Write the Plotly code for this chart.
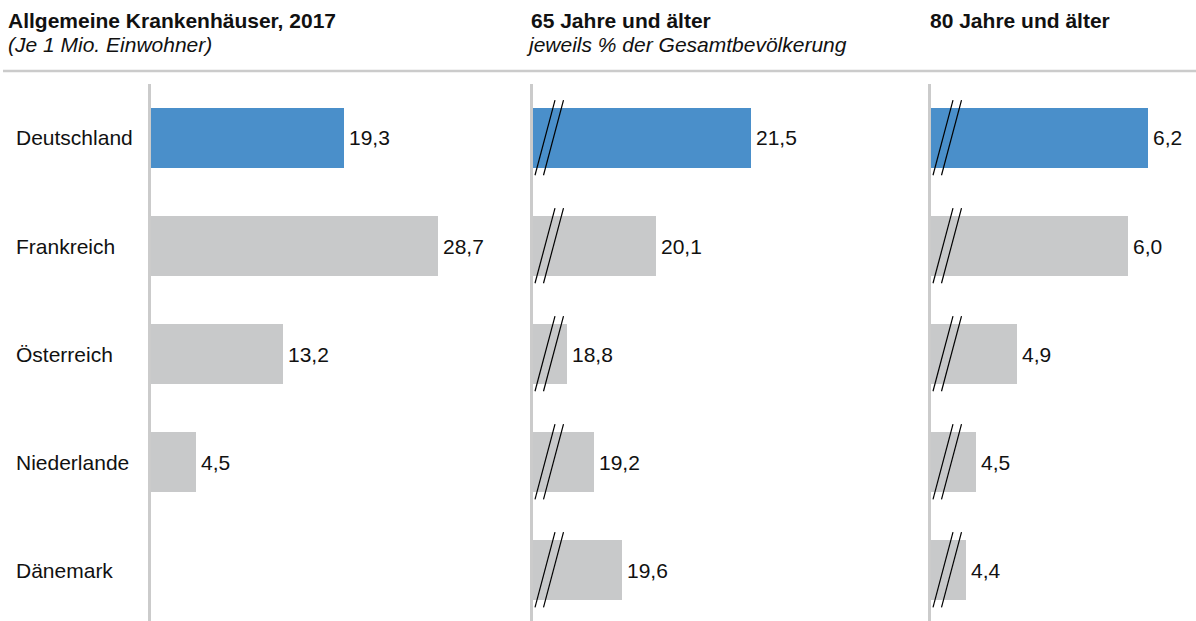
import plotly.graph_objects as go

# Data
countries = ["Deutschland", "Frankreich", "Österreich", "Niederlande", "Dänemark"]
hospitals_per_mio = [19.3, 28.7, 13.2, 4.5, None]
share_65_plus = [21.5, 20.1, 18.8, 19.2, 19.6]
share_80_plus = [6.2, 6.0, 4.9, 4.5, 4.4]

panel_titles = ["Allgemeine Krankenhäuser, 2017", "65 Jahre und älter", "80 Jahre und älter"]
panel_subtitles = ["(Je 1 Mio. Einwohner)", "jeweils % der Gesamtbevölkerung", ""]

W, H = 1196, 621
FONT = "Liberation Sans, Arial, sans-serif"
BLUE = "#4a8fca"
GREY = "#c8c9ca"
AXIS_GREY = "#cbcbcb"
FS = 21

colors = [BLUE] + [GREY] * (len(countries) - 1)

# Panel layout (pixel positions of each bar baseline and value ranges)
panels = [
    dict(values=hospitals_per_mio, left=151, right=520, xrange=[0, 36.9], broken=False),
    dict(values=share_65_plus, left=533, right=920, xrange=[18.30, 23.98], broken=True),
    dict(values=share_80_plus, left=931, right=1196, xrange=[4.054, 6.675], broken=True),
]

TOP = 84  # top of plotting area in px
y_dom_top = 1 - TOP / H
y_range = [4.472, -0.5]
bar_w = 60 / 108

fig = go.Figure()
annotations = []
shapes = []

def fmt(v):
    return f"{v:.1f}".replace(".", ",")

for k, p in enumerate(panels):
    xs = "" if k == 0 else str(k + 1)
    xa, ya = "x" + xs, "y" + xs
    fig.add_trace(go.Bar(
        x=p["values"], y=countries, orientation="h",
        marker=dict(color=colors, line=dict(width=0)),
        width=bar_w, base=0,
        xaxis=xa, yaxis=ya, hoverinfo="skip", showlegend=False,
    ))
    fig.layout["xaxis" + xs] = dict(
        domain=[p["left"] / W, p["right"] / W], range=p["xrange"],
        visible=False, fixedrange=True, anchor=ya,
    )
    fig.layout["yaxis" + xs] = dict(
        domain=[0, y_dom_top], range=y_range, type="category",
        categoryorder="array", categoryarray=countries,
        showticklabels=False, ticks="", showgrid=False, zeroline=False,
        showline=True, linecolor=AXIS_GREY, linewidth=3,
        anchor=xa, fixedrange=True,
    )
    # value labels
    for i, v in enumerate(p["values"]):
        if v is None:
            continue
        annotations.append(dict(
            x=v, y=countries[i], xref=xa, yref=ya, text=fmt(v),
            showarrow=False, xanchor="left", yanchor="middle", xshift=3,
            font=dict(family=FONT, size=FS, color="#111111"),
        ))
    # axis-break marks (double slash) at the bar baseline
    if p["broken"]:
        for i, v in enumerate(p["values"]):
            for off in (2, 10.5):
                shapes.append(dict(
                    type="line", xref="paper", yref=ya,
                    x0=(p["left"] + off) / W, x1=(p["left"] + off + 20) / W,
                    y0=i + 0.345, y1=i - 0.35,
                    line=dict(color="#000000", width=1.2),
                ))

# country labels
for c in countries:
    annotations.append(dict(
        x=16 / W, y=c, xref="paper", yref="y", text=c, showarrow=False,
        xanchor="left", yanchor="middle", xshift=-2,
        font=dict(family=FONT, size=FS, color="#111111"),
    ))

# panel headings
title_x = [8, 531, 930]
sub_shift = [-2, -7, 0]
for tx, t, s, ss in zip(title_x, panel_titles, panel_subtitles, sub_shift):
    annotations.append(dict(
        x=tx / W, y=1 - 20 / H, xref="paper", yref="paper", text=f"<b>{t}</b>",
        showarrow=False, xanchor="left", yanchor="middle", xshift=-2,
        font=dict(family=FONT, size=FS, color="#111111"),
    ))
    if s:
        annotations.append(dict(
            x=tx / W, y=1 - 45 / H, xref="paper", yref="paper", text=f"<i>{s}</i>",
            showarrow=False, xanchor="left", yanchor="middle", xshift=ss,
            font=dict(family=FONT, size=FS, color="#111111"),
        ))

# header rule
shapes.append(dict(
    type="line", xref="paper", yref="paper", x0=3 / W, x1=1,
    y0=1 - 71 / H, y1=1 - 71 / H, line=dict(color=AXIS_GREY, width=2.5),
))

fig.update_layout(
    width=W, height=H, margin=dict(l=0, r=0, t=0, b=0),
    paper_bgcolor="white", plot_bgcolor="white",
    annotations=annotations, shapes=shapes,
    font=dict(family=FONT), bargap=0,
)

fig.write_html("out.html", config={"displayModeBar": False})
